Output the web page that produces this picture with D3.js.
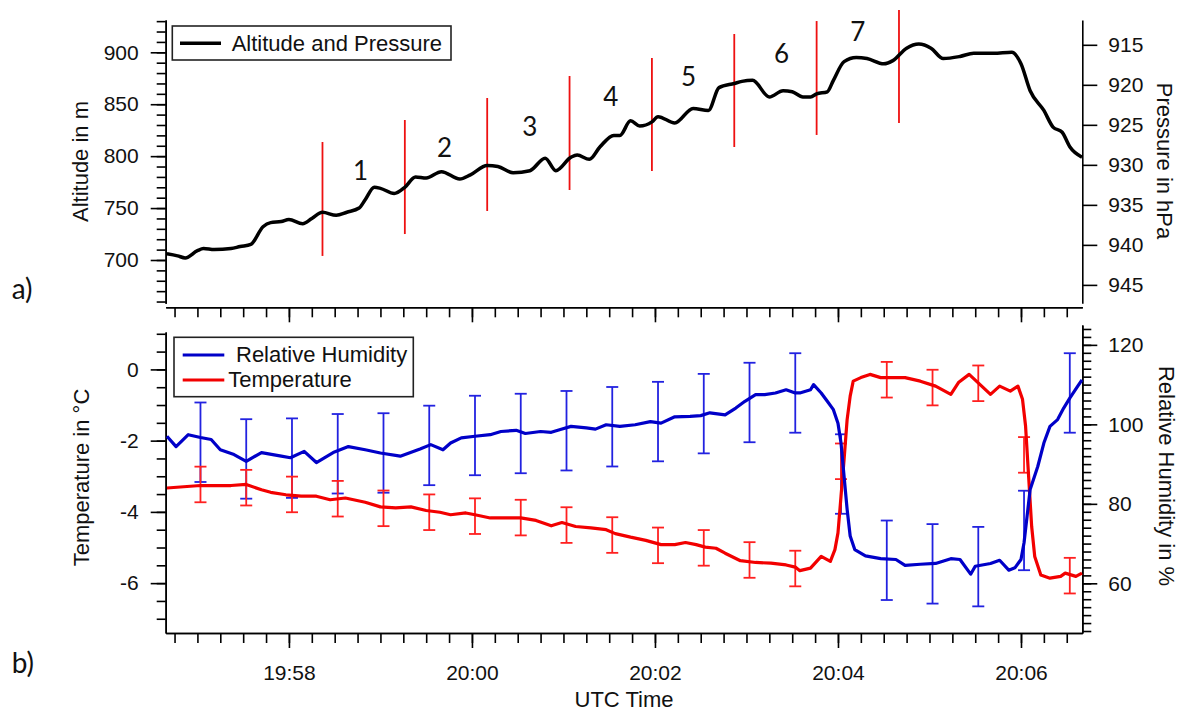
<!DOCTYPE html>
<html>
<head>
<meta charset="utf-8">
<script src="https://cdn.jsdelivr.net/npm/d3@7"></script>
<style>
  body { margin: 0; background: #fff; }
  svg { display: block; font-family: "Liberation Sans", Arial, sans-serif; }
  .axis path, .axis line { stroke: #000; stroke-width: 1.6; }
  .axis text { font-size: 21px; fill: #111; font-family: "Liberation Sans", Arial, sans-serif; }
</style>
</head>
<body>
<svg id="chart" width="1181" height="711"></svg>
<script>
// time is stored as seconds after 19:56:00 UTC
const startTime = Date.UTC(2000, 0, 1, 19, 56, 0);
const timeRange = [39.2, 640.2];

// a) altitude track
const altSec = [40,47,52,60,64,71,82,88,95,103,108,115,120,129,135,142,151,158,166,170,
                176,180,189,196,203,210,220,232,239,250,257,267,278,288,295,305,309,317,324,333,
                337,344,350,358,362,373,385,395,402,412,417,424,435,444,450,457,462,466,473,477,
                484,492,499,510,516,525,533,541,549,560,569,582,594,600,606,615,621,627,632,640];
const altM = [706,704,702,709,711,710,711,713,715,732,736,737,739,735,740,746,743,746,750,758,
              770,769,764,770,780,779,785,778,782,791,790,784,786,798,786,799,801,797,809,820,
              820,834,829,833,838,832,846,844,866,870,872,873,857,863,862,857,857,860,862,873,
              891,895,894,889,892,904,908,904,894,896,899,899,900,889,863,844,828,823,809,799];

// red level markers and their numbers
const markSec = [142,196,250,304,358,412,466,520];
const markTop = [813.6,834.8,856.0,877.2,894.5,917.6,930.1,940.7];
const markBot = [703.9,725.0,747.2,767.4,785.7,808.8,820.4,831.9];
const levelNames = ['1','2','3','4','5','6','7'];
const levelSec = [167,222,278,331,382,443,493];
const levelAlt = [777,799,819,848,868,890,911];

const altTicks = [700,750,800,850,900];
const presTicks = [915,920,925,930,935,940,945];

// b) relative humidity and temperature
const rhSec = [40,46,54,62,69,75,84,92,102,115,121,130,138,149,159,170,180,193,206,213,
               221,226,233,242,252,259,269,275,285,292,298,305,315,321,328,337,347,357,364,373,
               383,390,396,406,413,419,426,432,439,446,452,455,462,464,469,473,477,480,482,484,
               486,488,491,498,508,518,524,534,544,554,560,567,570,580,586,592,596,600,602,604,
               606,611,615,619,624,628,632,637,640];
const rhVal = [97.0,94.4,97.4,96.7,96.2,93.6,92.4,90.7,92.9,92.0,91.6,93.2,90.4,92.9,94.4,93.6,92.8,92.0,93.8,94.9,
               93.6,95.3,96.6,97.0,97.4,98.2,98.5,97.7,98.2,98.0,98.7,99.5,99.1,98.8,99.9,99.5,99.9,100.7,100.3,101.9,
               102.0,102.2,102.9,102.4,104.1,105.8,107.5,107.5,107.9,108.7,107.9,107.9,108.7,110.0,107.9,105.8,103.7,100.3,95.3,86.9,
               78.6,71.9,68.5,66.9,66.2,66.0,64.5,64.8,65.0,66.2,66.0,62.3,64.3,65.0,65.8,63.3,63.9,66.0,70.2,76.9,
               83.6,89.4,95.3,99.5,101.2,104.1,106.6,109.5,111.2];

const tSec = [40,62,82,92,102,108,118,128,138,147,157,170,180,190,200,210,219,226,236,242,
              252,262,272,282,292,299,308,318,328,334,344,354,364,373,380,387,393,400,406,416,
              426,436,446,452,455,462,469,475,478,480,482,484,486,488,490,495,501,508,518,524,
              534,544,554,559,566,573,580,586,593,598,601,603,605,607,609,613,619,626,629,636,640];
const tVal = [-3.33,-3.26,-3.26,-3.23,-3.38,-3.45,-3.52,-3.56,-3.56,-3.66,-3.61,-3.73,-3.86,-3.89,-3.86,-3.96,-4.01,-4.08,-4.03,-4.08,
              -4.17,-4.17,-4.17,-4.24,-4.39,-4.30,-4.41,-4.45,-4.50,-4.61,-4.71,-4.80,-4.92,-4.92,-4.86,-4.92,-4.99,-5.02,-5.16,-5.37,
              -5.42,-5.44,-5.49,-5.55,-5.65,-5.58,-5.25,-5.39,-5.06,-4.59,-3.56,-2.53,-1.41,-0.75,-0.33,-0.23,-0.14,-0.23,-0.23,-0.23,
              -0.33,-0.47,-0.70,-0.37,-0.14,-0.42,-0.70,-0.47,-0.61,-0.47,-0.84,-1.59,-3.00,-4.41,-5.25,-5.77,-5.86,-5.81,-5.72,-5.81,-5.72];

// error bars every 30 s
const barSec = [62,92,122,152,182,212,242,272,302,332,362,392,422,452,482,512,542,572,602,632];
const barT = [-3.23,-3.32,-3.51,-3.63,-3.90,-4.01,-4.12,-4.16,-4.37,-4.65,-4.94,-5.01,-5.35,-5.59,-2.58,-0.29,-0.51,-0.39,-2.40,-5.79];
const barRH = [95.5,91.3,91.5,92.6,92.8,94.7,97.2,97.7,98.4,99.4,100.7,102.7,105.5,107.9,87.5,65.8,64.9,64.2,73.3,107.9];
const errT = 0.5;
const errRH = 10;

const tempTicks = [-6,-4,-2,0];
const rhTicks = [60,80,100,120];

const toDate = s => new Date(startTime + s * 1000);

const svg = d3.select('#chart');
svg.append('rect').attr('width', 1181).attr('height', 711).attr('fill', '#fff');

const x = d3.scaleUtc()
  .domain(timeRange.map(toDate))
  .range([165.7, 1082.3]);

const yAlt = d3.scaleLinear().domain([658.3, 931.1]).range([303.3, 20]);
const yPres = d3.scaleLinear().domain([947.3, 911.9]).range([303.3, 20]);
const yTemp = d3.scaleLinear().domain([-7.4, 1.05]).range([633, 332]);
const yRH = d3.scaleLinear().domain([47.5, 125]).range([633, 325]);

const plain = d => String(d);

function timeAxis(y, withLabels){
  const g = svg.append('g').attr('class', 'axis').attr('transform', 'translate(0,' + y + ')');
  g.append('g').call(d3.axisBottom(x).ticks(d3.utcSecond.every(15)).tickSize(10).tickSizeOuter(0).tickFormat(''));
  g.append('g').call(d3.axisBottom(x).ticks(d3.utcMinute.every(2)).tickSize(15).tickSizeOuter(0).tickPadding(17)
    .tickFormat(withLabels ? d3.utcFormat('%H:%M') : ''));
  g.selectAll('text').style('font-size', '21px');
}

function leftAxis(scale, major, minor, xPos){
  const g = svg.append('g').attr('class', 'axis').attr('transform', 'translate(' + xPos + ',0)');
  g.append('g').call(d3.axisLeft(scale).tickValues(minor).tickSize(9).tickSizeOuter(0).tickFormat(''));
  g.append('g').call(d3.axisLeft(scale).tickValues(major).tickSize(15).tickSizeOuter(0).tickPadding(12).tickFormat(plain));
}

function rightAxis(scale, major, minor, xPos){
  const g = svg.append('g').attr('class', 'axis').attr('transform', 'translate(' + xPos + ',0)');
  if(minor) g.append('g').call(d3.axisRight(scale).tickValues(minor).tickSize(9).tickSizeOuter(0).tickFormat(''));
  g.append('g').call(d3.axisRight(scale).tickValues(major).tickSize(15).tickSizeOuter(0).tickPadding(11).tickFormat(plain));
}

// ---- panel a ----
timeAxis(307.3, false);
leftAxis(yAlt, altTicks, d3.range(660, 931, 10), 165.7);
rightAxis(yPres, presTicks, null, 1082.3);

const altData = altSec.map((s, i) => ({ t: toDate(s), v: altM[i] }));

svg.append('g').selectAll('line')
  .data(markSec)
  .join('line')
    .attr('x1', d => x(toDate(d)))
    .attr('x2', d => x(toDate(d)))
    .attr('y1', (d, i) => yAlt(markTop[i]))
    .attr('y2', (d, i) => yAlt(markBot[i]))
    .attr('stroke', '#ee1111')
    .attr('stroke-width', 1.8);

svg.append('path')
  .datum(altData)
  .attr('fill', 'none')
  .attr('stroke', '#000')
  .attr('stroke-width', 3.5)
  .attr('stroke-linejoin', 'round')
  .attr('d', d3.line()
    .curve(d3.curveMonotoneX)
    .x(d => x(d.t))
    .y(d => yAlt(d.v)));

svg.append('g').selectAll('text')
  .data(levelNames)
  .join('text')
    .attr('x', (d, i) => x(toDate(levelSec[i])))
    .attr('y', (d, i) => yAlt(levelAlt[i]))
    .attr('text-anchor', 'middle')
    .style('font-family', 'Lato, "Open Sans", sans-serif')
    .style('font-size', '26px')
    .attr('fill', '#111')
    .text(d => d);

// legend a
const legA = svg.append('g');
legA.append('rect').attr('x', 172.3).attr('y', 26).attr('width', 278.7).attr('height', 34)
  .attr('fill', '#fff').attr('stroke', '#222').attr('stroke-width', 1.6);
legA.append('line').attr('x1', 180).attr('x2', 221).attr('y1', 43.3).attr('y2', 43.3)
  .attr('stroke', '#000').attr('stroke-width', 3.5);
legA.append('text').attr('x', 231.7).attr('y', 50.8).style('font-size', '22px').attr('fill', '#111')
  .text('Altitude and Pressure');

// ---- panel b ----
timeAxis(633, true);
leftAxis(yTemp, tempTicks, d3.range(-7, 1.01, 0.5), 165.7);
rightAxis(yRH, rhTicks, d3.range(48, 125, 2), 1082.3);

function errorBars(vals, err, scale, color){
  const g = svg.append('g').attr('stroke', color).attr('stroke-width', 1.8);
  barSec.forEach((s, i) => {
    const bx = x(toDate(s));
    const top = scale(vals[i] + err), bot = scale(vals[i] - err);
    g.append('line').attr('x1', bx).attr('x2', bx).attr('y1', top).attr('y2', bot);
    g.append('line').attr('x1', bx - 6).attr('x2', bx + 6).attr('y1', top).attr('y2', top);
    g.append('line').attr('x1', bx - 6).attr('x2', bx + 6).attr('y1', bot).attr('y2', bot);
  });
}

errorBars(barRH, errRH, yRH, '#2222e0');
errorBars(barT, errT, yTemp, '#ff2020');

const tData = tSec.map((s, i) => ({ t: toDate(s), v: tVal[i] }));
const rhData = rhSec.map((s, i) => ({ t: toDate(s), v: rhVal[i] }));

svg.append('path')
  .datum(tData)
  .attr('fill', 'none')
  .attr('stroke', '#f20000')
  .attr('stroke-width', 3.2)
  .attr('stroke-linejoin', 'round')
  .attr('d', d3.line().x(d => x(d.t)).y(d => yTemp(d.v)));

svg.append('path')
  .datum(rhData)
  .attr('fill', 'none')
  .attr('stroke', '#0000c8')
  .attr('stroke-width', 3.2)
  .attr('stroke-linejoin', 'round')
  .attr('d', d3.line().x(d => x(d.t)).y(d => yRH(d.v)));

// legend b
const legB = svg.append('g');
legB.append('rect').attr('x', 174).attr('y', 337.3).attr('width', 239.3).attr('height', 59.4)
  .attr('fill', '#fff').attr('stroke', '#222').attr('stroke-width', 1.6);
legB.append('line').attr('x1', 182.7).attr('x2', 224.3).attr('y1', 355).attr('y2', 355)
  .attr('stroke', '#0000c8').attr('stroke-width', 3.2);
legB.append('line').attr('x1', 182.7).attr('x2', 224.3).attr('y1', 380).attr('y2', 380)
  .attr('stroke', '#f20000').attr('stroke-width', 3.2);
legB.append('text').attr('x', 236).attr('y', 362.4).style('font-size', '22px').attr('fill', '#111')
  .text('Relative Humidity');
legB.append('text').attr('x', 228.3).attr('y', 387.4).style('font-size', '22px').attr('fill', '#111')
  .text('Temperature');

// axis titles
const title = (txt, tx, ty, rot) => svg.append('text')
  .attr('transform', 'translate(' + tx + ',' + ty + ') rotate(' + rot + ')')
  .attr('text-anchor', 'middle')
  .style('font-size', '22px')
  .attr('fill', '#111')
  .text(txt);

title('Altitude in m', 88, 161.5, -90);
title('Pressure in hPa', 1157, 161, 90);
title('Temperature in °C', 89, 477.5, -90);
title('Relative Humidity in %', 1159, 476, 90);
title('UTC Time', 624, 706.5, 0);

// panel letters
svg.append('text').attr('x', 11.7).attr('y', 299)
  .style('font-family', 'Lato, "Open Sans", sans-serif').style('font-size', '28px').attr('fill', '#111')
  .text('a)');
svg.append('text').attr('x', 11.7).attr('y', 673)
  .style('font-family', 'Lato, "Open Sans", sans-serif').style('font-size', '28px').attr('fill', '#111')
  .text('b)');
</script>
</body>
</html>
